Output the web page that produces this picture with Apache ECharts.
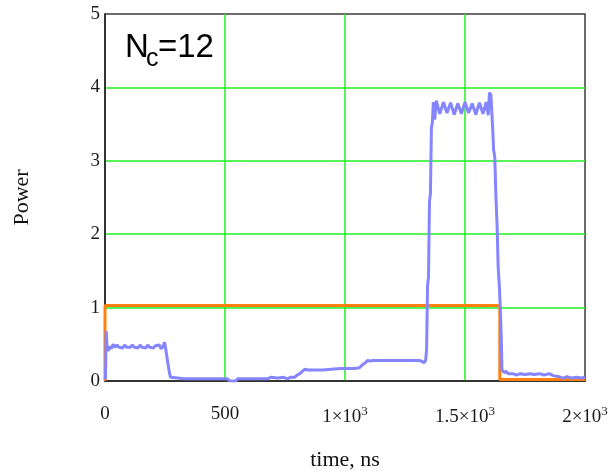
<!DOCTYPE html>
<html>
<head>
<meta charset="utf-8">
<title>Power vs time</title>
<script src="https://cdn.jsdelivr.net/npm/echarts@6/dist/echarts.min.js"></script>
<style>
    html,body{margin:0;padding:0;background:#fff;}
    #chart{width:615px;height:476px;}
</style>
</head>
<body>
<div id="chart"></div>
<script>
// blue trace: output power
var pulseTime = [2,5,9,14,20,27,34,42,50,58,66,74,82,90,98,106,114,122,130,138,146,154,162,170,178,186,194,202,210,218,226,234,242,248,253,258,263,268,273,280,
    330,400,460,510,520,545,552,620,680,690,720,745,760,772,790,800,812,822,832,845,880,905,910,980,1040,1060,1072,1085,1095,1105,1115,1180,1250,1310,1318,1330,1336,
    1340,1344,1348,1352,1356,1360,1364,
    1368,1374,1380,1395,1410,1425,1440,1455,1470,1485,1500,1515,1530,1545,1560,1575,1588,1597,1602,1608,
    1612,1616,1619,1624,1629,1634,1638,1643,1647,1651,1654,1662,1672,1680,1700,1715,1730,1750,1770,1790,1810,1830,1850,1870,1890,1910,1925,1945,1965,1985,2000];
var pulsePower = [0.02,0.68,0.45,0.41,0.47,0.44,0.5,0.46,0.49,0.46,0.48,0.45,0.49,0.46,0.48,0.46,0.49,0.46,0.48,0.45,0.49,0.46,0.48,0.45,0.49,0.46,0.48,0.45,0.48,0.46,0.49,0.44,0.47,0.53,0.44,0.33,0.22,0.12,0.05,0.03,
    0.03,0.03,0.03,0.03,0.0,0.0,0.03,0.03,0.03,0.05,0.04,0.05,0.03,0.05,0.05,0.08,0.1,0.13,0.16,0.15,0.15,0.15,0.17,0.17,0.17,0.18,0.22,0.25,0.28,0.27,0.28,0.28,0.28,0.28,0.26,0.25,0.28,
    0.43,1.3,1.42,2.45,2.55,3.45,3.52,
    3.8,3.56,3.82,3.64,3.8,3.65,3.79,3.63,3.78,3.64,3.8,3.65,3.78,3.63,3.79,3.64,3.8,3.62,3.93,3.9,
    3.65,3.4,3.15,3.05,2.5,2.1,1.56,1.3,1.0,0.6,0.15,0.12,0.13,0.1,0.1,0.08,0.1,0.09,0.1,0.09,0.1,0.08,0.1,0.07,0.06,0.04,0.06,0.04,0.05,0.04,0.05];

// orange trace: input gate
var gateTime = [0,0,1645,1645,2000];
var gateLevel = [0,1.03,1.03,0.02,0.02];

var xTicks = [0,500,1000,1500,2000];
var xTickLabels = ['0','500','1×10{e|3}','1.5×10{e|3}','2×10{e|3}'];
var yTicks = [0,1,2,3,4,5];

function toPairs(xs, ys){
    var out = [];
    for(var i=0; i<xs.length; i++){
        out.push([xs[i], ys[i]]);
    }
    return out;
}

var chart = echarts.init(document.getElementById('chart'), null, {renderer:'canvas'});
var serif = 'Liberation Serif';
var gridGreen = '#22ee22';

var option = {
    animation:false,
    backgroundColor:'#fff',
    grid:{
        left:105, right:30, top:14, bottom:94,
        show:true,
        borderColor:'#3c3c3c',
        borderWidth:1.5
    },
    xAxis:{
        type:'value',
        min:xTicks[0],
        max:xTicks[xTicks.length-1],
        interval:500,
        name:'time, ns',
        nameLocation:'middle',
        nameGap:68,
        nameTextStyle:{fontFamily:serif, fontSize:22, color:'#111'},
        axisLine:{show:true, lineStyle:{color:'#222', width:1.5}},
        axisTick:{show:false},
        splitLine:{show:true, showMinLine:false, showMaxLine:false, lineStyle:{color:gridGreen, width:1.5}},
        axisLabel:{
            margin:24,
            fontFamily:serif, fontSize:19, color:'#1a1a1a',
            formatter:function(val){
                var idx = xTicks.indexOf(val);
                return idx > -1 ? xTickLabels[idx] : '';
            },
            rich:{
                e:{fontFamily:serif, fontSize:13, color:'#1a1a1a', verticalAlign:'bottom', padding:[0,0,12,0]}
            }
        }
    },
    yAxis:{
        type:'value',
        min:yTicks[0],
        max:yTicks[yTicks.length-1],
        interval:1,
        name:'Power',
        nameLocation:'middle',
        nameRotate:90,
        nameGap:72,
        nameTextStyle:{fontFamily:serif, fontSize:22, color:'#111'},
        axisLine:{show:true, lineStyle:{color:'#222', width:1.5}},
        axisTick:{show:false},
        splitLine:{show:true, showMinLine:false, showMaxLine:false, lineStyle:{color:gridGreen, width:1.5}},
        axisLabel:{margin:5, fontFamily:serif, fontSize:19, color:'#1a1a1a'}
    },
    graphic:[{
        type:'group',
        left:125, top:31,
        children:[
            {type:'text', x:0, y:0, style:{text:'N', fontFamily:'Liberation Sans', fontSize:33, fill:'#000'}},
            {type:'text', x:21, y:16, style:{text:'c', fontFamily:'Liberation Sans', fontSize:25, fill:'#000'}},
            {type:'text', x:33, y:0, style:{text:'=12', fontFamily:'Liberation Sans', fontSize:33, fill:'#000'}}
        ]
    }],
    series:[{
        name:'gate',
        type:'line',
        data:toPairs(gateTime, gateLevel),
        showSymbol:false,
        clip:false,
        lineStyle:{color:'#ff8010', width:3},
        z:3
    },{
        name:'output',
        type:'line',
        data:toPairs(pulseTime, pulsePower),
        showSymbol:false,
        sampling:'none',
        lineStyle:{color:'#8585ff', width:3},
        z:4
    }]
};
chart.setOption(option);
</script>
</body>
</html>
